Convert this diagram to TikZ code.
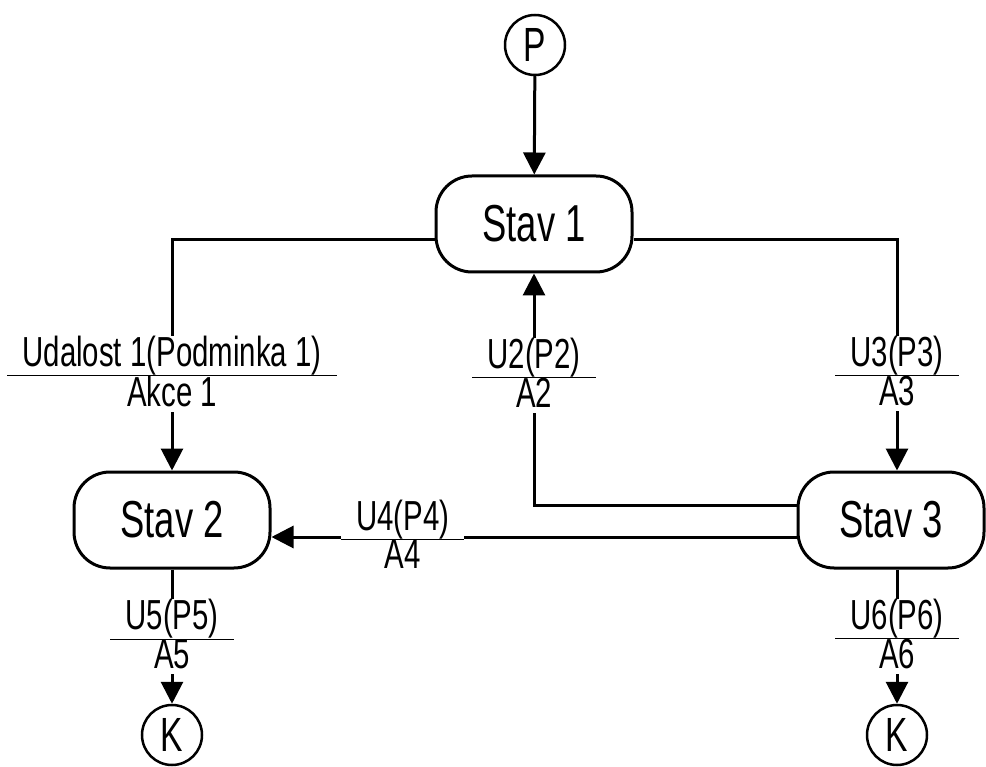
\documentclass[tikz,border=0pt]{standalone}
\usepackage{fontspec}
\setmainfont[FakeStretch=0.7]{Liberation Sans}
\usetikzlibrary{arrows.meta}
\newcommand\evlbl[2]{{\renewcommand\arraystretch{0.4}\setlength\arrayrulewidth{1pt}%
  \begin{tabular}{@{\hspace{15pt}}c@{\hspace{15pt}}}#1\\\hline #2\end{tabular}}}
\begin{document}
\begin{tikzpicture}[x=1pt, y=-1pt,
    stav/.style={draw, line width=3pt, rounded corners=36pt, minimum width=196pt, minimum height=96pt, font=\fontsize{52}{54}\selectfont},
    term/.style={draw, circle, line width=2.5pt, minimum size=60pt, inner sep=0pt, font=\fontsize{48}{50}\selectfont},
    edge/.style={line width=3pt, -{Triangle[length=22pt,width=22pt]}},
    ev/.style={fill=white, inner sep=0pt, font=\fontsize{42}{44}\selectfont}]
  \useasboundingbox (0,0) rectangle (986,767);

  \node[term] (P) at (535,45) {P};
  \node[stav] (s1) at (534,224) {Stav 1};
  \node[stav] (s2) at (172,520) {Stav 2};
  \node[stav, minimum width=186pt] (s3) at (891,520) {Stav 3};
  \node[term] (K1) at (172,735) {K};
  \node[term] (K2) at (897,735) {K};

  \draw[edge] (P) -- (s1);
  \draw[edge] ([yshift=-16pt]s1.west) -| (s2.north)
    node[ev, pos=0.79] {\evlbl{Udalost 1(Podminka 1)}{Akce 1}};
  \draw[edge] ([yshift=-16pt]s1.east) -| ([xshift=6pt]s3.north)
    node[ev, pos=0.79] {\evlbl{U3(P3)}{A3}};
  \draw[edge] ([yshift=15pt]s3.west) -| (s1.south)
    node[ev, pos=0.78] {\evlbl{U2(P2)}{A2}};
  \draw[edge] ([yshift=-17pt]s3.west) -- ([yshift=-17pt]s2.east)
    node[ev, pos=0.75] {\evlbl{U4(P4)}{A4}};
  \draw[edge] (s2) -- (K1) node[ev, midway] {\evlbl{U5(P5)}{A5}};
  \draw[edge] ([xshift=6pt]s3.south) -- (K2) node[ev, midway] {\evlbl{U6(P6)}{A6}};
\end{tikzpicture}
\end{document}
